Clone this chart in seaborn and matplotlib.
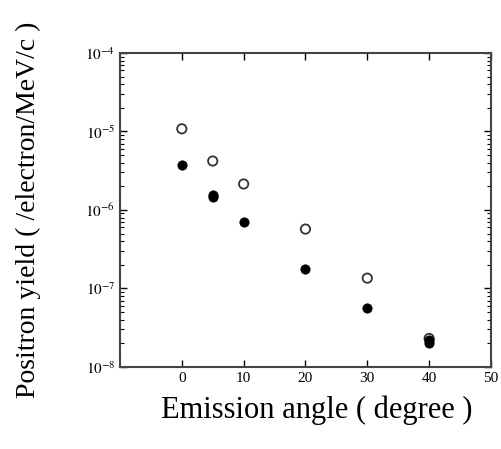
import math
import matplotlib
matplotlib.use('Agg')
import matplotlib.pyplot as plt
import matplotlib.ticker as mticker
import seaborn as sns
import pandas as pd

# Daten
angle_open = [0, 5, 10, 20, 30, 40]
yield_open = [1.08e-5, 4.2e-6, 2.14e-6, 5.7e-7, 1.35e-7, 2.3e-8]
angle_filled = [0, 5, 5, 10, 20, 30, 40, 40]
yield_filled = [3.7e-6, 1.55e-6, 1.45e-6, 7.1e-7, 1.77e-7, 5.6e-8, 2.2e-8, 2.0e-8]

df_open = pd.DataFrame({'angle': angle_open, 'yield': yield_open})
df_filled = pd.DataFrame({'angle': angle_filled, 'yield': yield_filled})

sns.set_style('ticks')
plt.rcParams['font.family'] = ['Liberation Serif', 'DejaVu Serif']
plt.rcParams['mathtext.fontset'] = 'stix'
plt.rcParams['text.color'] = 'black'
plt.rcParams['axes.labelcolor'] = 'black'
plt.rcParams['xtick.color'] = 'black'
plt.rcParams['ytick.color'] = 'black'

fig = plt.figure(figsize=(5.02, 4.49), dpi=100)
ax = fig.add_axes([0.239, 0.183, 0.739, 0.699])

sns.scatterplot(x='angle', y='yield', data=df_open, ax=ax, marker='o', s=45,
                facecolor='none', edgecolor='#333333', linewidth=1.3, zorder=3)
sns.scatterplot(x='angle', y='yield', data=df_filled, ax=ax, marker='o', s=45,
                color='black', edgecolor='black', zorder=4)

ax.set_yscale('log')
ax.set_xlim(-10, 50)
ax.set_ylim(1e-8, 1e-4)
ax.set_xticks([0, 10, 20, 30, 40, 50])
ax.set_yticks([1e-8, 1e-7, 1e-6, 1e-5, 1e-4])
ax.yaxis.set_major_formatter(mticker.FuncFormatter(lambda v, p: r'$10^{%d}$' % round(math.log10(v))))
ax.yaxis.set_minor_locator(mticker.LogLocator(base=10, subs=range(2, 10), numticks=20))
ax.yaxis.set_minor_formatter(mticker.NullFormatter())
ax.tick_params(which='both', direction='in', top=True, right=True, labelsize=11)
ax.tick_params(which='major', length=5, width=1)
ax.tick_params(which='minor', length=3, width=0.8)
for sp in ax.spines.values():
    sp.set_linewidth(1.5)
    sp.set_color('#444444')

ax.set_xlabel('Emission angle ( degree )', fontsize=22)
ax.set_ylabel('Positron yield ( /electron/MeV/c )', fontsize=20)
ax.xaxis.set_label_coords(0.53, -0.092)
ax.yaxis.set_label_coords(-0.212, 0.5)

fig.savefig('out.png', dpi=100)
